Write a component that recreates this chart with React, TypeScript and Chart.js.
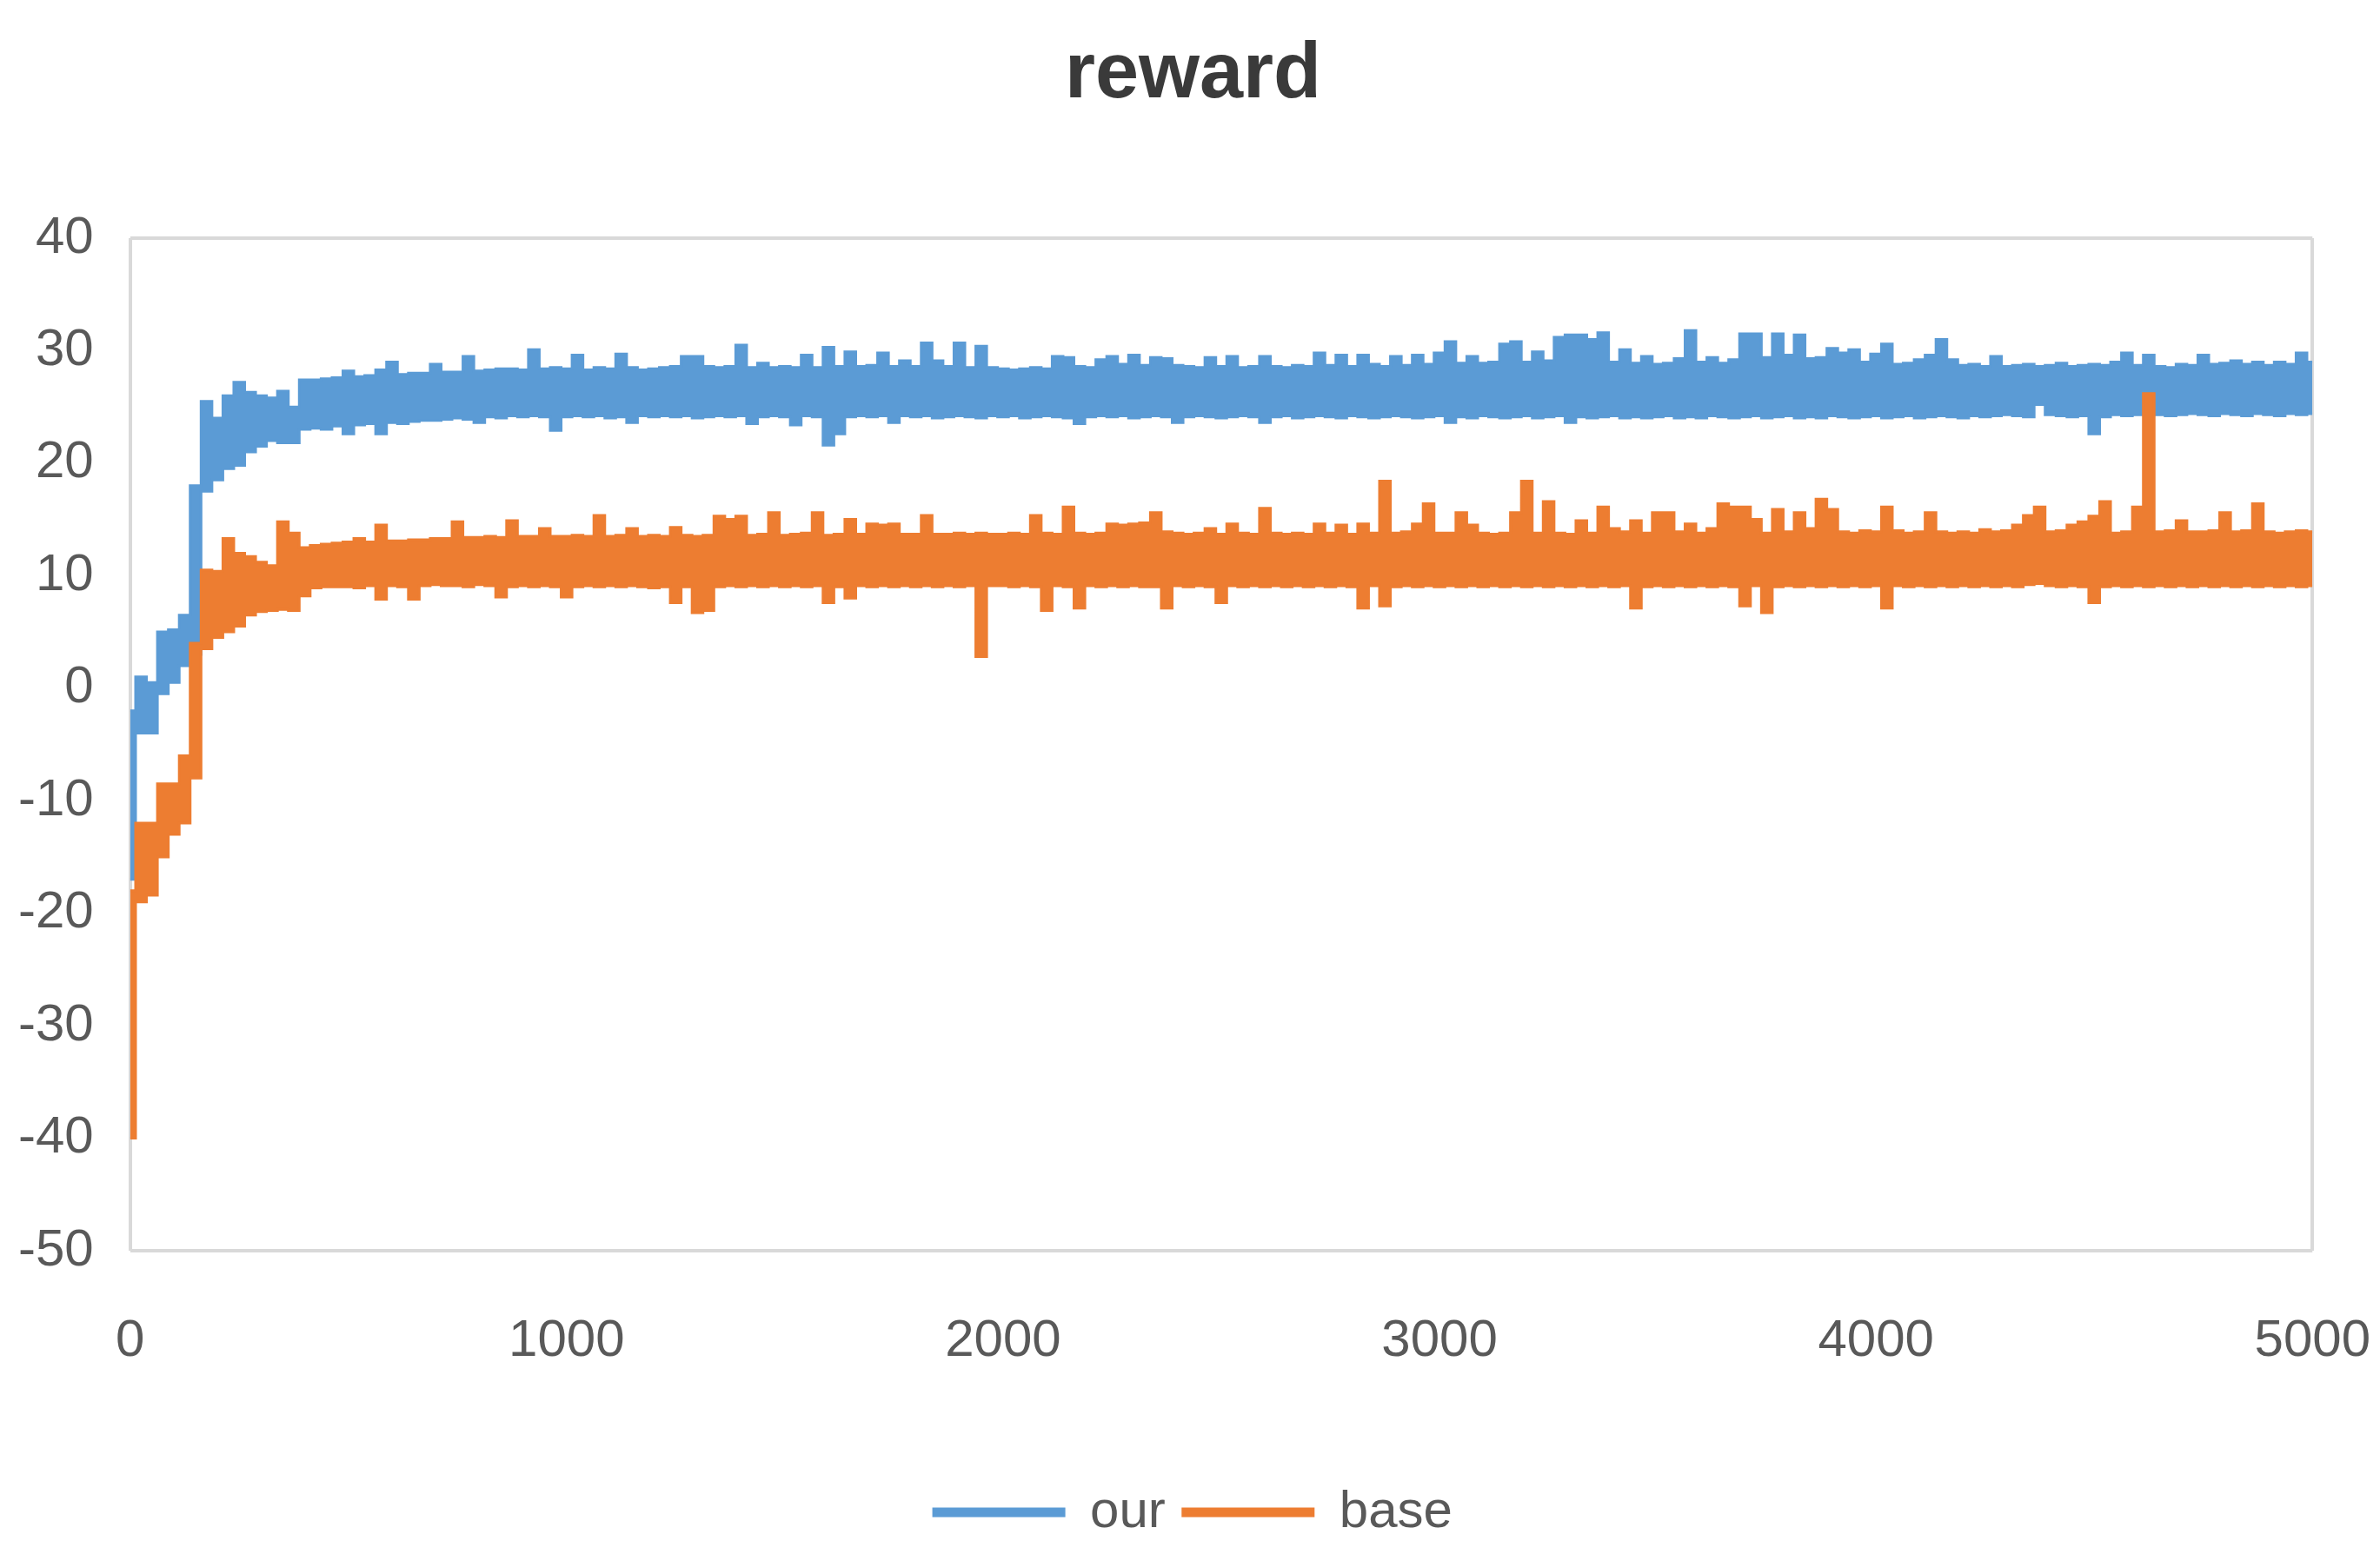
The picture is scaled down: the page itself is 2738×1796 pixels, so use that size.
import React, { useEffect, useRef } from 'react';
import { Chart, registerables } from 'chart.js';

Chart.register(...registerables);

// ---------- data ----------
const TITLE = 'reward';
const SERIES_NAMES = ['our', 'base'];
// x sampling grid of the band envelopes (episode index)
const X_STEP = 25;
const xValues = Array.from({ length: 201 }, (_, i) => i * X_STEP);

// upper / lower edges of the noisy "our" curve
const ourHigh = [
  -2, 1, 0.5, 5, 5.2, 6.5, 18, 25.5, 24, 26,
  27.2, 26.3, 26, 25.8, 26.4, 25, 27.4, 27.4, 27.5, 27.6,
  28.2, 27.7, 27.8, 28.3, 29.0, 27.9, 28.0, 28.0, 28.8, 28.1,
  28.1, 29.5, 28.2, 28.3, 28.4, 28.4, 28.3, 30.1, 28.4, 28.5,
  28.4, 29.6, 28.3, 28.5, 28.4, 29.7, 28.5, 28.3, 28.4, 28.5,
  28.6, 29.5, 29.5, 28.6, 28.5, 28.6, 30.5, 28.5, 28.9, 28.5,
  28.6, 28.5, 29.6, 28.5, 30.3, 28.6, 29.9, 28.6, 28.7, 29.8,
  28.6, 29.1, 28.6, 30.7, 29.1, 28.6, 30.7, 28.5, 30.4, 28.5,
  28.4, 28.3, 28.4, 28.5, 28.4, 29.5, 29.4, 28.6, 28.5, 29.2,
  29.5, 28.8, 29.6, 28.7, 29.4, 29.3, 28.7, 28.6, 28.5, 29.4,
  28.6, 29.5, 28.5, 28.6, 29.5, 28.6, 28.5, 28.7, 28.6, 29.8,
  28.7, 29.6, 28.6, 29.6, 28.8, 28.6, 29.5, 28.7, 29.6, 28.8,
  29.8, 30.8, 28.9, 29.5, 28.9, 29.0, 30.6, 30.8, 29.0, 29.9,
  29.1, 31.2, 31.4, 31.4, 31.0, 31.6, 29.0, 30.1, 28.9, 29.5,
  28.8, 28.9, 29.3, 31.8, 29.0, 29.4, 28.9, 29.2, 31.5, 31.5,
  29.4, 31.5, 29.6, 31.4, 29.3, 29.4, 30.2, 29.8, 30.1, 29.0,
  29.7, 30.6, 28.8, 28.9, 29.2, 29.6, 31.0, 29.2, 28.7, 28.8,
  28.6, 29.5, 28.6, 28.7, 28.8, 28.6, 28.7, 28.9, 28.6, 28.7,
  28.8, 28.7, 29.0, 29.8, 28.7, 29.6, 28.6, 28.5, 28.8, 28.7,
  29.6, 28.8, 28.9, 29.1, 28.8, 29.0, 28.7, 29.0, 28.8, 29.8, 29.0,
];
const ourLow = [
  -17, -4, -4, -0.5, 0.5, 2, 3, 17.5, 18.5, 19.5,
  19.8, 21, 21.5, 22, 21.8, 21.8, 23, 23.1, 23.0, 23.3,
  22.6, 23.4, 23.5, 22.6, 23.6, 23.5, 23.7, 23.8, 23.8, 23.9,
  24.0, 23.9, 23.6, 24.1, 24.0, 24.2, 24.1, 24.2, 24.1, 22.9,
  24.1, 24.2, 24.1, 24.2, 24.0, 24.1, 23.6, 24.2, 24.1, 24.2,
  24.1, 24.2, 24.0, 24.1, 24.2, 24.1, 24.2, 23.5, 24.1, 24.2,
  24.1, 23.4, 24.2, 24.1, 21.6, 22.6, 24.1, 24.2, 24.1, 24.2,
  23.6, 24.2, 24.1, 24.2, 24.0, 24.1, 24.2, 24.1, 24.0, 24.2,
  24.1, 24.2, 24.0, 24.1, 24.2, 24.1, 24.0, 23.5, 24.1, 24.2,
  24.1, 24.2, 24.0, 24.1, 24.2, 24.1, 23.6, 24.1, 24.2, 24.1,
  24.0, 24.1, 24.2, 24.1, 23.6, 24.1, 24.2, 24.0, 24.1, 24.2,
  24.1, 24.0, 24.2, 24.1, 24.0, 24.1, 24.2, 24.1, 24.0, 24.1,
  24.2, 23.6, 24.1, 24.0, 24.2, 24.1, 24.0, 24.1, 24.2, 24.0,
  24.1, 24.2, 23.6, 24.1, 24.0, 24.1, 24.2, 24.0, 24.1, 24.0,
  24.1, 24.2, 24.0, 24.1, 24.0, 24.2, 24.1, 24.0, 24.1, 24.2,
  24.0, 24.1, 24.2, 24.0, 24.1, 24.0, 24.2, 24.1, 24.0, 24.1,
  24.2, 24.0, 24.1, 24.2, 24.0, 24.1, 24.2, 24.1, 24.0, 24.2,
  24.1, 24.2, 24.3, 24.2, 24.1, 25.2, 24.3, 24.2, 24.1, 24.2,
  22.6, 24.1, 24.3, 24.2, 24.3, 24.4, 24.3, 24.2, 24.3, 24.4,
  24.3, 24.2, 24.4, 24.3, 24.2, 24.4, 24.3, 24.2, 24.4, 24.3, 24.4,
];

// upper / lower edges of the noisy "base" curve
const baseHigh = [
  -18, -12, -12, -8.5, -8.5, -6, 4, 10.5, 10.4, 13.3,
  12.0, 11.7, 11.2, 10.9, 14.8, 13.8, 12.5, 12.7, 12.8, 12.9,
  13.0, 13.3, 13.0, 14.5, 13.1, 13.1, 13.2, 13.2, 13.3, 13.3,
  14.8, 13.4, 13.4, 13.5, 13.4, 14.9, 13.5, 13.5, 14.2, 13.5,
  13.5, 13.6, 13.5, 15.35, 13.5, 13.6, 14.2, 13.5, 13.6, 13.5,
  14.3, 13.6, 13.5, 13.6, 15.3, 15.0, 15.3, 13.6, 13.7, 15.6,
  13.6, 13.7, 13.8, 15.6, 13.6, 13.7, 15.0, 13.7, 14.6, 14.5,
  14.6, 13.7, 13.7, 15.35, 13.7, 13.7, 13.8, 13.7, 13.8, 13.7,
  13.7, 13.8, 13.7, 15.35, 13.8, 13.7, 16.1, 13.8, 13.7, 13.8,
  14.6, 14.5, 14.6, 14.7, 15.6, 13.9, 13.8, 13.7, 13.8, 14.2,
  13.7, 14.6, 13.8, 13.7, 16.0, 13.8, 13.7, 13.8, 13.7, 14.6,
  13.8, 14.5, 13.7, 14.6, 13.8, 18.4, 13.8, 13.9, 14.6, 16.4,
  13.8, 13.8, 15.6, 14.5, 13.8, 13.7, 13.8, 15.6, 18.4, 13.8,
  16.6, 13.8, 13.7, 14.9, 13.8, 16.1, 14.2, 13.9, 14.9, 13.8,
  15.6, 15.6, 13.9, 14.6, 13.8, 14.2, 16.4, 16.1, 16.1, 15.0,
  13.8, 15.9, 13.9, 15.6, 14.2, 16.8, 15.9, 13.9, 13.8, 14.0,
  13.9, 16.1, 14.0, 13.8, 13.9, 15.6, 13.9, 13.8, 13.9, 13.8,
  14.1, 13.9, 14.0, 14.5, 15.35, 16.1, 13.9, 14.0, 14.5, 14.8,
  15.3, 16.6, 13.8, 13.9, 16.1, 26.2, 13.9, 14.0, 14.9, 13.9,
  13.9, 14.0, 15.6, 13.9, 14.0, 16.4, 13.9, 13.8, 13.9, 14.0, 13.9,
];
const baseLow = [
  -40, -19, -18.4, -15, -13, -12, -8, 3.5, 4.5, 5,
  5.5, 6.5, 6.8, 6.9, 7.0, 6.9, 8.2, 8.9, 9.0, 9.0,
  9.0, 8.9, 9.1, 7.9, 9.1, 9.0, 7.9, 9.1, 9.2, 9.1,
  9.1, 9.0, 9.2, 9.1, 8.1, 9.0, 9.1, 9.0, 9.1, 9.0,
  8.1, 9.0, 9.1, 9.0, 9.1, 9.0, 9.1, 9.0, 8.9, 9.0,
  7.6, 9.0, 6.7, 6.9, 9.0, 9.1, 9.0, 9.1, 9.0, 9.1,
  9.0, 9.1, 9.0, 9.1, 7.6, 9.0, 8.0, 9.1, 9.0, 9.1,
  9.0, 9.1, 9.0, 9.1, 9.0, 9.1, 9.0, 9.1, 2.8, 9.1,
  9.1, 9.0, 9.1, 9.0, 6.9, 9.1, 9.0, 7.1, 9.1, 9.0,
  9.1, 9.0, 9.1, 9.0, 9.0, 7.1, 9.1, 9.0, 9.1, 9.0,
  7.6, 9.1, 9.0, 9.1, 9.0, 9.1, 9.0, 9.1, 9.0, 9.1,
  9.0, 9.1, 9.0, 7.1, 9.1, 7.3, 9.0, 9.1, 9.0, 9.1,
  9.0, 9.1, 9.0, 9.1, 9.0, 9.1, 9.0, 9.1, 9.0, 9.1,
  9.0, 9.1, 9.0, 9.1, 9.0, 9.1, 9.0, 9.1, 7.1, 9.0,
  9.1, 9.0, 9.1, 9.0, 9.1, 9.0, 9.1, 9.0, 7.3, 9.1,
  6.7, 9.0, 9.1, 9.0, 9.1, 9.0, 9.1, 9.0, 9.1, 9.0,
  9.1, 7.1, 9.1, 9.0, 9.1, 9.0, 9.1, 9.0, 9.1, 9.0,
  9.1, 9.0, 9.1, 9.0, 9.2, 9.3, 9.1, 9.0, 9.1, 9.0,
  7.6, 9.0, 9.1, 9.0, 9.1, 9.0, 9.1, 9.0, 9.1, 9.0,
  9.1, 9.0, 9.1, 9.0, 9.1, 9.0, 9.1, 9.0, 9.1, 9.0, 9.1,
];

const xTickValues = [0, 1000, 2000, 3000, 4000, 5000];
const yTickValues = [-50, -40, -30, -20, -10, 0, 10, 20, 30, 40];

// ---------- styling ----------
const BLUE = '#5B9BD5';
const ORANGE = '#ED7D31';
const FRAME = '#D9D9D9';
const TICK_COLOR = '#595959';
const FONT = "'Liberation Sans', Arial, sans-serif";
const CLEAR = 'rgba(0,0,0,0)';

export default function App() {
  const canvasRef = useRef<HTMLCanvasElement | null>(null);

  useEffect(() => {
    if (!canvasRef.current) return;
    const xMin = xTickValues[0];
    const xMax = xTickValues[xTickValues.length - 1];
    const yMin = yTickValues[0];
    const yMax = yTickValues[yTickValues.length - 1];

    const frameColor = (edgeA: number, edgeB: number) => (ctx: any) =>
      ctx.tick && (ctx.tick.value === edgeA || ctx.tick.value === edgeB) ? FRAME : CLEAR;

    const band = (label: string, data: number[], color: string, fillPrev: boolean, order: number) => ({
      label,
      data,
      borderColor: color,
      backgroundColor: color,
      borderWidth: 3,
      pointRadius: 0,
      stepped: 'middle',
      fill: fillPrev ? '-1' : false,
      order,
    });

    const chart = new Chart(canvasRef.current, {
      type: 'line',
      data: {
        labels: xValues,
        datasets: [
          band(SERIES_NAMES[0], ourHigh, BLUE, false, 1),
          band(SERIES_NAMES[0], ourLow, BLUE, true, 1),
          band(SERIES_NAMES[1], baseHigh, ORANGE, false, 0),
          band(SERIES_NAMES[1], baseLow, ORANGE, true, 0),
        ] as any,
      },
      options: {
        animation: false,
        responsive: true,
        maintainAspectRatio: false,
        devicePixelRatio: 1,
        events: [],
        layout: { padding: { left: 11, right: 4, top: 0, bottom: 8 } },
        plugins: {
          title: {
            display: true,
            text: TITLE,
            color: '#3A3A3A',
            font: { family: FONT, size: 90, weight: 'bold' },
            padding: { top: 25, bottom: 133 },
          },
          legend: {
            position: 'bottom',
            labels: {
              boxWidth: 150,
              boxHeight: 8,
              padding: 20,
              color: TICK_COLOR,
              font: { family: FONT, size: 60 },
              filter: (item: any) => item.datasetIndex === 0 || item.datasetIndex === 2,
              sort: (a: any, b: any) => a.datasetIndex - b.datasetIndex,
            },
          },
          tooltip: { enabled: false },
        },
        scales: {
          x: {
            type: 'linear',
            min: xMin,
            max: xMax,
            afterBuildTicks: (scale: any) => {
              scale.ticks = xTickValues.map((v) => ({ value: v }));
            },
            afterFit: (scale: any) => {
              scale.height += 108;
            },
            ticks: {
              padding: 3,
              color: TICK_COLOR,
              font: { family: FONT, size: 60 },
              maxRotation: 0,
              autoSkip: false,
              callback: (v: any) => String(v),
            },
            grid: {
              drawTicks: true,
              tickLength: 65,
              tickColor: CLEAR,
              lineWidth: 4,
              color: frameColor(xMin, xMax),
            },
            border: { display: false },
          },
          y: {
            type: 'linear',
            min: yMin,
            max: yMax,
            afterBuildTicks: (scale: any) => {
              scale.ticks = yTickValues.map((v) => ({ value: v }));
            },
            ticks: {
              padding: 2,
              color: TICK_COLOR,
              font: { family: FONT, size: 60 },
              callback: (v: any) => String(v),
            },
            grid: {
              drawTicks: true,
              tickLength: 40,
              tickColor: CLEAR,
              lineWidth: 4,
              color: frameColor(yMin, yMax),
            },
            border: { display: false },
          },
        },
      } as any,
    });
    return () => chart.destroy();
  }, []);

  return (
    <div style={{ width: 2722, height: 1780, position: 'relative' }}>
      <canvas ref={canvasRef} />
    </div>
  );
}
